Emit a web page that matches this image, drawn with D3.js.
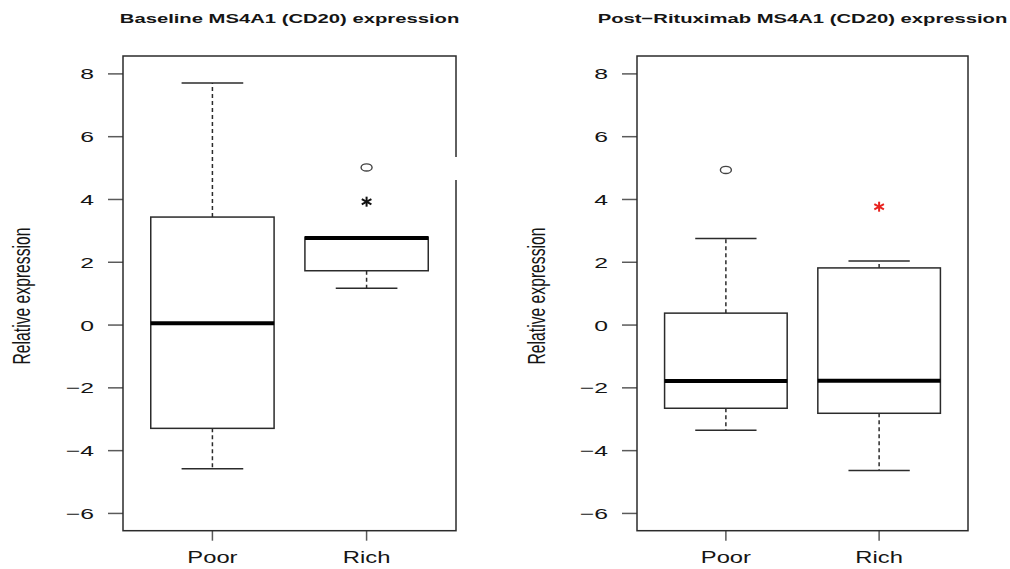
<!DOCTYPE html>
<html>
<head>
<meta charset="utf-8">
<script src="https://cdn.jsdelivr.net/npm/d3@7"></script>
<style>
  html, body { margin: 0; padding: 0; background: #fff; }
  svg { display: block; }
  text { font-family: "Liberation Sans", Arial, sans-serif; fill: #151515; }
</style>
</head>
<body>
<svg id="chart" width="1010" height="569"></svg>
<script>
// Groups and tick labels
const groups = ["Poor", "Rich"];
const yTicks = [-6, -4, -2, 0, 2, 4, 6, 8];
const panelTitles = ["Baseline MS4A1 (CD20) expression", "Post\u2212Rituximab MS4A1 (CD20) expression"];
const yAxisLabel = "Relative expression";

// Baseline: five-number summaries per group
const baselineLow    = [-4.58, 1.17];
const baselineQ1     = [-3.29, 1.73];
const baselineMedian = [0.06, 2.77];
const baselineQ3     = [3.44, 2.80];
const baselineHigh   = [7.71, 2.80];
const baselineOutlier = [null, 5.02];
const baselineStar    = [null, 3.93];

// Post-Rituximab: five-number summaries per group
const postLow    = [-3.35, -4.63];
const postQ1     = [-2.65, -2.81];
const postMedian = [-1.78, -1.77];
const postQ3     = [0.38, 1.82];
const postHigh   = [2.76, 2.04];
const postOutlier = [4.94, null];
const postStar    = [null, 3.77];

const panels = [
  { title: panelTitles[0], low: baselineLow, q1: baselineQ1, med: baselineMedian, q3: baselineQ3, high: baselineHigh,
    outlier: baselineOutlier, star: baselineStar, starColor: "#111",
    left: 123, right: 456, ylabX: 22, frameGap: [157, 180] },
  { title: panelTitles[1], low: postLow, q1: postQ1, med: postMedian, q3: postQ3, high: postHigh,
    outlier: postOutlier, star: postStar, starColor: "#e8231f",
    left: 637, right: 968, ylabX: 537, frameGap: null }
];

const svg = d3.select("#chart");
const plotTop = 56, plotBottom = 530.7;
const y = d3.scaleLinear().domain([-6.55, 8.57]).range([plotBottom, plotTop]);

const lineCol = "#2b2b2b";
const tickCol = "#5a5a5a";

panels.forEach(p => {
  const g = svg.append("g");
  const x = d3.scaleLinear().domain([0.42, 2.58]).range([p.left, p.right]);
  const boxHalf = x(1.4) - x(1);
  const capHalf = x(1.2) - x(1);

  // Title (wide bold type)
  const cx = (p.left + p.right) / 2;
  g.append("text")
    .attr("transform", `translate(${cx},23) scale(1.5,1)`)
    .attr("text-anchor", "middle")
    .attr("font-weight", "bold")
    .attr("font-size", 13.5)
    .text(p.title);

  // Y axis ticks and labels
  const yt = g.append("g");
  yTicks.forEach(t => {
    yt.append("line")
      .attr("x1", p.left - 15).attr("x2", p.left)
      .attr("y1", y(t)).attr("y2", y(t))
      .attr("stroke", tickCol).attr("stroke-width", 1.5);
    yt.append("text")
      .attr("transform", `translate(${p.left - 29},${y(t)}) scale(1.65,1)`)
      .attr("text-anchor", "end")
      .attr("dominant-baseline", "central")
      .attr("font-size", 15)
      .text(t < 0 ? "\u2212" + Math.abs(t) : String(t));
  });

  // X axis ticks and group labels
  groups.forEach((name, i) => {
    const gx = x(i + 1);
    g.append("line")
      .attr("x1", gx).attr("x2", gx)
      .attr("y1", plotBottom).attr("y2", plotBottom + 10)
      .attr("stroke", tickCol).attr("stroke-width", 1.5);
    g.append("text")
      .attr("transform", `translate(${gx},563) scale(1.4,1)`)
      .attr("text-anchor", "middle")
      .attr("font-size", 17)
      .text(name);
  });

  // Y axis title
  g.append("text")
    .attr("transform", `translate(${p.ylabX},296) scale(1.5,1) rotate(-90)`)
    .attr("text-anchor", "middle")
    .attr("dominant-baseline", "central")
    .attr("font-size", 15.7)
    .text(yAxisLabel);

  // Boxplots
  groups.forEach((name, i) => {
    const gx = x(i + 1);
    // whiskers
    [[p.q3[i], p.high[i]], [p.q1[i], p.low[i]]].forEach(([a, b]) => {
      if (Math.abs(a - b) > 1e-9) {
        g.append("line")
          .attr("x1", gx).attr("x2", gx)
          .attr("y1", y(a)).attr("y2", y(b))
          .attr("stroke", lineCol).attr("stroke-width", 1.5)
          .attr("stroke-dasharray", "4,3");
      }
      g.append("line")
        .attr("x1", gx - capHalf).attr("x2", gx + capHalf)
        .attr("y1", y(b)).attr("y2", y(b))
        .attr("stroke", lineCol).attr("stroke-width", 1.5);
    });
    // box
    g.append("rect")
      .attr("x", gx - boxHalf).attr("width", 2 * boxHalf)
      .attr("y", y(p.q3[i])).attr("height", y(p.q1[i]) - y(p.q3[i]))
      .attr("fill", "#fff")
      .attr("stroke", lineCol).attr("stroke-width", 1.5);
    // median
    g.append("line")
      .attr("x1", gx - boxHalf).attr("x2", gx + boxHalf)
      .attr("y1", y(p.med[i])).attr("y2", y(p.med[i]))
      .attr("stroke", "#000").attr("stroke-width", 4);
    // outlier
    if (p.outlier[i] != null) {
      g.append("ellipse")
        .attr("cx", gx).attr("cy", y(p.outlier[i]))
        .attr("rx", 5.5).attr("ry", 3.6)
        .attr("fill", "none")
        .attr("stroke", "#444").attr("stroke-width", 1.4);
    }
    // asterisk marker
    if (p.star[i] != null) {
      const sy = y(p.star[i]);
      const arms = [[0, -5, 0, 5], [-4.8, -2.6, 4.8, 2.6], [-4.8, 2.6, 4.8, -2.6]];
      arms.forEach(([x1, y1, x2, y2]) => {
        g.append("line")
          .attr("x1", gx + x1).attr("y1", sy + y1)
          .attr("x2", gx + x2).attr("y2", sy + y2)
          .attr("stroke", p.starColor).attr("stroke-width", 2);
      });
    }
  });

  // Plot frame
  g.append("rect")
    .attr("x", p.left).attr("y", plotTop)
    .attr("width", p.right - p.left).attr("height", plotBottom - plotTop)
    .attr("fill", "none")
    .attr("stroke", lineCol).attr("stroke-width", 1.5);
  if (p.frameGap) {
    g.append("rect")
      .attr("x", p.right - 2).attr("y", p.frameGap[0])
      .attr("width", 4).attr("height", p.frameGap[1] - p.frameGap[0])
      .attr("fill", "#fff");
  }
});
</script>
</body>
</html>
